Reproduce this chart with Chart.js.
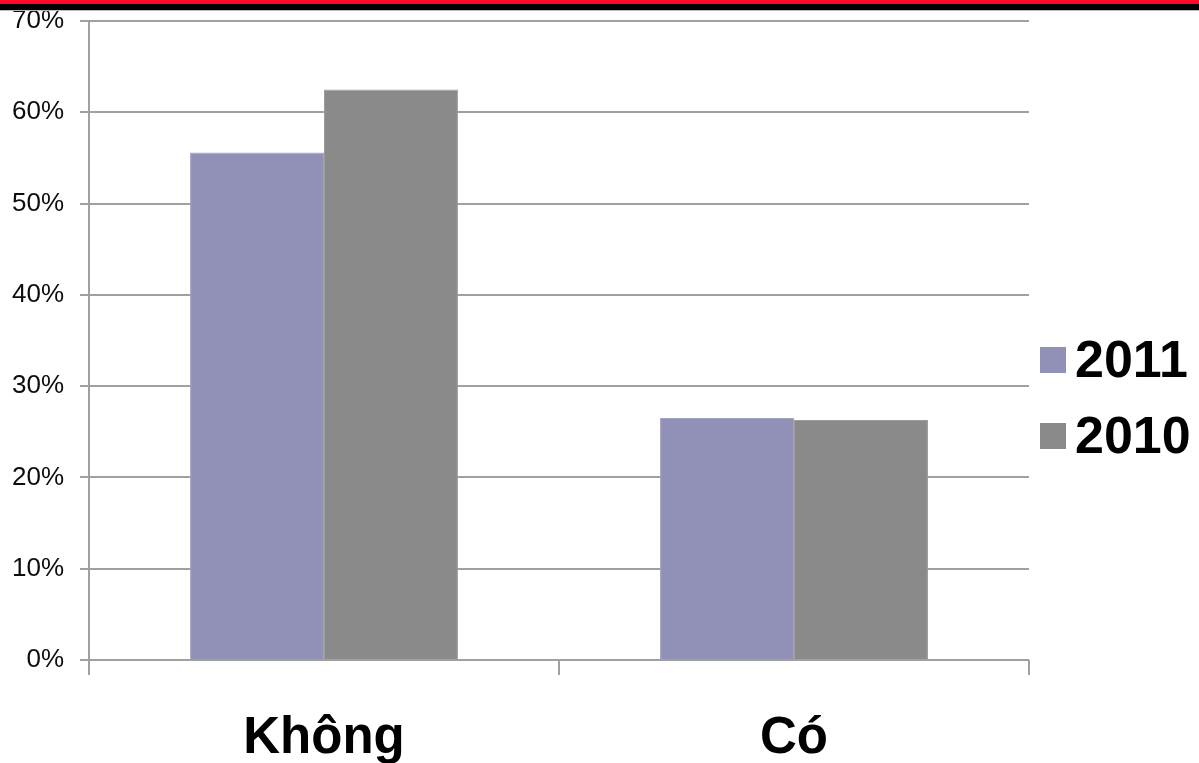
<!DOCTYPE html>
<html>
<head>
<meta charset="utf-8">
<script src="https://cdn.jsdelivr.net/npm/chart.js@4/dist/chart.umd.min.js"></script>
<style>
  html, body { margin: 0; padding: 0; background: #fff; }
  #wrap { position: relative; width: 1199px; height: 763px; overflow: hidden; }
  #c { position: absolute; left: 0; top: 0; }
  .band { position: absolute; left: 0; width: 1199px; }
  #red { top: 0; height: 4px; background: #ff0a2c; }
  #black { top: 4px; height: 6px; background: #000; }
  #rule { top: 10px; height: 1px; background: #bdbdbd; }
</style>
</head>
<body>
<div id="wrap">
  <canvas id="c" width="1199" height="763"></canvas>
  <div class="band" id="red"></div>
  <div class="band" id="black"></div>
  <div class="band" id="rule"></div>
</div>
<script>
// Answers per category, in percent
const categories = ['Không', 'Có'];
const seriesNames = ['2011', '2010'];
const values2011 = [55.6, 26.5];
const values2010 = [62.5, 26.3];
const seriesColors = ['#9191b8', '#8a8a8a'];
const yTicks = [0, 10, 20, 30, 40, 50, 60, 70];

const FONT = '"Liberation Sans", Arial, sans-serif';

// Square-swatch legend drawn to the right of the plot area
const sideLegend = {
  id: 'sideLegend',
  afterDraw(chart) {
    const ctx = chart.ctx;
    const x0 = chart.chartArea.right + 11;
    ctx.save();
    ctx.font = 'bold 52px ' + FONT;
    ctx.textBaseline = 'alphabetic';
    ctx.textAlign = 'left';
    chart.data.datasets.forEach((ds, i) => {
      const top = 347 + i * 76;
      ctx.fillStyle = ds.backgroundColor;
      ctx.fillRect(x0, top, 26, 26);
      ctx.fillStyle = '#000';
      ctx.fillText(ds.label, x0 + 35, top + 30);
    });
    ctx.restore();
  }
};

new Chart(document.getElementById('c'), {
  type: 'bar',
  data: {
    labels: categories,
    datasets: [
      { label: seriesNames[0], data: values2011, backgroundColor: seriesColors[0],
        borderColor: '#a3a3c4', borderWidth: 1 },
      { label: seriesNames[1], data: values2010, backgroundColor: seriesColors[1],
        borderColor: '#9b9b9b', borderWidth: 1 }
    ]
  },
  plugins: [sideLegend],
  options: {
    responsive: false,
    animation: false,
    devicePixelRatio: 1,
    layout: { padding: { left: 0, top: 21, right: 170, bottom: 0 } },
    datasets: { bar: { categoryPercentage: 0.57, barPercentage: 1.0 } },
    plugins: {
      legend: { display: false },
      tooltip: { enabled: false },
      title: { display: false }
    },
    scales: {
      x: {
        grid: { display: true, drawOnChartArea: false, drawTicks: true, tickLength: 15,
                color: '#a0a0a0', lineWidth: 2, offset: true },
        border: { display: false },
        ticks: { color: '#000', font: { family: FONT, size: 51, weight: 'bold' }, padding: 33 },
        afterFit(scale) { scale.height = 103; }
      },
      y: {
        min: 0,
        max: 70,
        afterBuildTicks(scale) { scale.ticks = yTicks.map(v => ({ value: v })); },
        grid: { color: '#a0a0a0', lineWidth: 2, tickLength: 9, drawTicks: true },
        border: { display: true, color: '#a0a0a0', width: 2 },
        ticks: {
          color: '#0d0d0d',
          font: { family: FONT, size: 26 },
          padding: 16,
          callback: v => v + '%'
        },
        afterFit(scale) {
          scale.width = 89;
          scale.paddingTop = 0;
          scale.paddingBottom = 0;
        }
      }
    }
  }
});
</script>
</body>
</html>
